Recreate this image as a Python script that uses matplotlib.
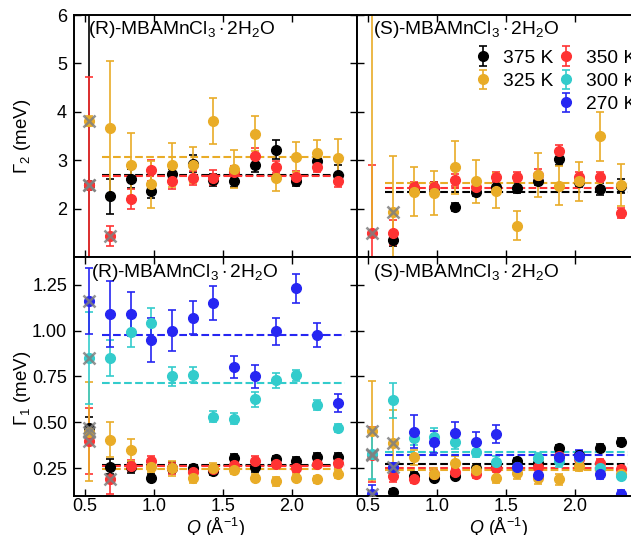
import numpy as np
import matplotlib.pyplot as plt
from matplotlib.lines import Line2D

plt.rcParams['font.family'] = 'Liberation Sans'
plt.rcParams['mathtext.fontset'] = 'custom'
plt.rcParams['mathtext.rm'] = 'Liberation Sans'
plt.rcParams['mathtext.it'] = 'Liberation Sans:italic'
plt.rcParams['font.size'] = 13

# Q (1/Angstrom)
Q = np.array([0.53, 0.68, 0.83, 0.98, 1.13, 1.28, 1.43, 1.58, 1.73, 1.88, 2.03, 2.18, 2.33])

temps = ['375 K', '350 K', '325 K', '300 K', '270 K']
cores = {'375 K': '#000000', '350 K': '#ff3333', '325 K': '#E9AC27', '300 K': '#33cccc', '270 K': '#2626f2'}
nan = np.nan

# ---- Gamma_2, (R) ----
g2_R = {
    '375 K': [2.49, 2.25, 2.62, 2.36, 2.71, 2.93, 2.59, 2.56, 2.90, 3.22, 2.58, 2.98, 2.70],
    '350 K': [2.49, 1.44, 2.20, 2.79, 2.56, 2.63, 2.64, 2.76, 3.09, 2.86, 2.65, 2.86, 2.57],
    '325 K': [3.81, 3.66, 2.91, 2.50, 2.90, 2.90, 3.81, 2.82, 3.55, 2.63, 3.06, 3.14, 3.05],
}
g2_R_err = {
    '375 K': [5.0, 0.36, 0.20, 0.15, 0.10, 0.17, 0.13, 0.12, 0.15, 0.20, 0.12, 0.10, 0.20],
    '350 K': [2.22, 0.21, 0.21, 0.21, 0.15, 0.15, 0.15, 0.12, 0.17, 0.13, 0.12, 0.10, 0.12],
    '325 K': [0.10, 1.38, 0.65, 0.48, 0.46, 0.38, 0.47, 0.40, 0.36, 0.26, 0.31, 0.27, 0.38],
}
g2_R_media = {'375 K': 2.70, '350 K': 2.68, '325 K': 3.07}
g2_R_fora = {'375 K': [0], '350 K': [0, 1], '325 K': [0]}

# ---- Gamma_2, (S) ----
g2_S = {
    '375 K': [nan, 1.35, 2.40, 2.42, 2.03, 2.35, 2.44, 2.42, 2.58, 3.02, 2.54, 2.40, 2.47],
    '350 K': [1.49, 1.50, 2.45, 2.45, 2.59, 2.45, 2.65, 2.65, 2.70, 3.18, 2.65, 2.65, 1.91],
    '325 K': [6.60, 1.92, 2.35, 2.32, 2.85, 2.56, 2.37, 1.65, 2.69, 2.47, 2.56, 3.49, 2.49],
}
g2_S_err = {
    '375 K': [nan, 0.12, 0.12, 0.12, 0.08, 0.10, 0.10, 0.10, 0.10, 0.12, 0.10, 0.12, 0.15],
    '350 K': [1.41, 0.26, 0.10, 0.10, 0.12, 0.12, 0.10, 0.10, 0.12, 0.13, 0.10, 0.10, 0.10],
    '325 K': [5.10, 1.17, 0.50, 0.45, 0.55, 0.44, 0.36, 0.30, 0.45, 0.40, 0.40, 0.50, 0.43],
}
g2_S_media = {'375 K': 2.35, '350 K': 2.43, '325 K': 2.52}
g2_S_fora = {'350 K': [0], '325 K': [1]}

# ---- Gamma_1, (R) ----
g1_R = {
    '375 K': [0.47, 0.26, 0.256, 0.20, 0.255, 0.25, 0.235, 0.307, 0.26, 0.30, 0.29, 0.312, 0.31],
    '350 K': [0.40, 0.19, 0.265, 0.29, 0.25, 0.23, 0.245, 0.27, 0.29, 0.275, 0.25, 0.275, 0.28],
    '325 K': [0.45, 0.405, 0.35, 0.26, 0.25, 0.20, 0.25, 0.24, 0.20, 0.18, 0.20, 0.19, 0.22],
    '300 K': [0.85, 0.85, 0.99, 1.04, 0.75, 0.76, 0.53, 0.52, 0.625, 0.73, 0.757, 0.595, 0.47],
    '270 K': [1.16, 1.09, 1.09, 0.95, 1.00, 1.07, 1.15, 0.80, 0.75, 0.995, 1.23, 0.977, 0.607],
}
g1_R_err = {
    '375 K': [0.06, 0.04, 0.03, 0.02, 0.03, 0.02, 0.02, 0.02, 0.03, 0.02, 0.02, 0.02, 0.025],
    '350 K': [0.18, 0.08, 0.03, 0.03, 0.03, 0.03, 0.02, 0.02, 0.03, 0.02, 0.02, 0.02, 0.02],
    '325 K': [0.27, 0.095, 0.06, 0.03, 0.04, 0.03, 0.03, 0.02, 0.02, 0.025, 0.02, 0.02, 0.02],
    '300 K': [0.25, 0.10, 0.08, 0.08, 0.05, 0.04, 0.03, 0.03, 0.04, 0.04, 0.03, 0.025, 0.02],
    '270 K': [0.18, 0.18, 0.12, 0.12, 0.11, 0.09, 0.09, 0.06, 0.06, 0.075, 0.08, 0.065, 0.05],
}
g1_R_media = {'375 K': 0.268, '350 K': 0.265, '325 K': 0.247, '300 K': 0.715, '270 K': 0.977}
g1_R_fora = {'375 K': [0], '350 K': [0, 1], '325 K': [0], '300 K': [0], '270 K': [0]}

# ---- Gamma_1, (S) ----
g1_S = {
    '375 K': [nan, 0.12, 0.21, 0.20, 0.21, 0.255, 0.26, 0.288, 0.28, 0.36, 0.325, 0.362, 0.393],
    '350 K': [0.325, 0.207, 0.19, 0.22, 0.23, 0.22, 0.25, 0.255, 0.26, 0.32, 0.30, 0.28, 0.245],
    '325 K': [0.455, 0.39, 0.31, 0.22, 0.28, 0.24, 0.20, 0.225, 0.196, 0.19, 0.265, 0.247, 0.22],
    '300 K': [0.33, 0.62, 0.416, 0.42, 0.393, 0.342, 0.285, 0.26, 0.306, 0.29, 0.31, 0.25, 0.21],
    '270 K': [0.11, 0.257, 0.45, 0.393, 0.443, 0.396, 0.438, 0.26, 0.216, 0.31, 0.32, 0.22, 0.11],
}
g1_S_err = {
    '375 K': [nan, 0.02, 0.02, 0.02, 0.02, 0.02, 0.02, 0.02, 0.02, 0.02, 0.02, 0.02, 0.02],
    '350 K': [0.15, 0.03, 0.02, 0.02, 0.02, 0.02, 0.02, 0.02, 0.02, 0.02, 0.02, 0.02, 0.02],
    '325 K': [0.27, 0.18, 0.04, 0.03, 0.04, 0.03, 0.03, 0.03, 0.03, 0.03, 0.03, 0.03, 0.03],
    '300 K': [0.14, 0.095, 0.04, 0.05, 0.04, 0.03, 0.03, 0.03, 0.03, 0.03, 0.03, 0.03, 0.02],
    '270 K': [0.05, 0.02, 0.09, 0.06, 0.06, 0.05, 0.05, 0.03, 0.03, 0.03, 0.03, 0.03, 0.02],
}
g1_S_media = {'375 K': 0.272, '350 K': 0.253, '325 K': 0.240, '300 K': 0.340, '270 K': 0.325}
g1_S_fora = {'350 K': [0], '325 K': [0, 1], '300 K': [0], '270 K': [0, 1]}

titulo_R = r'(R)-MBAMnCl$_3\cdot$2H$_2$O'
titulo_S = r'(S)-MBAMnCl$_3\cdot$2H$_2$O'


def desenha(ax, vals, errs, medias, fora):
    for t in temps:
        if t not in vals:
            continue
        y = np.array(vals[t], float)
        e = np.array(errs[t], float)
        ax.errorbar(Q, y, yerr=e, fmt='o', color=cores[t], ms=7, capsize=3,
                    elinewidth=1.2, capthick=1.2, label=t)
        ax.hlines(medias[t], 0.62, 2.38, colors=cores[t], linestyles='--', lw=1.5)
    # pontos excluidos do ajuste
    for t, idx in fora.items():
        y = np.array(vals[t], float)
        ax.plot(Q[idx], y[idx], 'x', color='gray', ms=8, mew=1.8, alpha=0.85, zorder=5)


fig = plt.figure(figsize=(6.31, 5.35), dpi=100)
esq, larg = 74 / 631, 283 / 631
dir_ = 357 / 631
ax_tl = fig.add_axes([esq, 1 - 257 / 535, larg, 242 / 535])
ax_tr = fig.add_axes([dir_, 1 - 257 / 535, larg, 242 / 535])
ax_bl = fig.add_axes([esq, 1 - 496 / 535, larg, 239 / 535])
ax_br = fig.add_axes([dir_, 1 - 496 / 535, larg, 239 / 535])

desenha(ax_tl, g2_R, g2_R_err, g2_R_media, g2_R_fora)
desenha(ax_tr, g2_S, g2_S_err, g2_S_media, g2_S_fora)
desenha(ax_bl, g1_R, g1_R_err, g1_R_media, g1_R_fora)
desenha(ax_br, g1_S, g1_S_err, g1_S_media, g1_S_fora)

for ax in [ax_tl, ax_tr, ax_bl, ax_br]:
    ax.set_xlim(0.42, 2.47)
    ax.set_xticks([0.5, 1.0, 1.5, 2.0])
    ax.tick_params(direction='in', top=True, right=True, length=5, width=1, labelsize=13)
    ax.tick_params(axis='x', pad=1.5)
    ax.tick_params(axis='y', pad=5)
    for s in ax.spines.values():
        s.set_linewidth(1.4)

for ax in [ax_tl, ax_tr]:
    ax.set_ylim(1, 6)
    ax.set_yticks([2, 3, 4, 5, 6])
    ax.tick_params(labelbottom=False)
for ax in [ax_bl, ax_br]:
    ax.set_ylim(0.1, 1.4)
    ax.set_yticks([0.25, 0.5, 0.75, 1.0, 1.25])
    ax.set_yticklabels(['0.25', '0.50', '0.75', '1.00', '1.25'])
    ax.set_xticklabels(['0.5', '1.0', '1.5', '2.0'])
    ax.set_xlabel(r'$Q$ (Å$^{-1}$)', fontsize=13)
    ax.xaxis.set_label_coords(0.5, -0.082)
for ax in [ax_tr, ax_br]:
    ax.tick_params(labelleft=False)

ax_tl.set_ylabel(r'$\Gamma_2$ (meV)', fontsize=13.5)
ax_tl.yaxis.set_label_coords(-0.145, 0.5)
ax_bl.set_ylabel(r'$\Gamma_1$ (meV)', fontsize=13.5)
ax_bl.yaxis.set_label_coords(-0.145, 0.45)

ax_tl.text(0.05, 0.985, titulo_R, transform=ax_tl.transAxes, va='top', ha='left', fontsize=13.8)
ax_bl.text(0.06, 0.978, titulo_R, transform=ax_bl.transAxes, va='top', ha='left', fontsize=13.8)
ax_tr.text(0.055, 0.985, titulo_S, transform=ax_tr.transAxes, va='top', ha='left', fontsize=13.8)
ax_br.text(0.055, 0.978, titulo_S, transform=ax_br.transAxes, va='top', ha='left', fontsize=13.8)

# legenda com as 5 temperaturas
h, l = ax_bl.get_legend_handles_labels()
mapa = dict(zip(l, h))
vazio = Line2D([], [], alpha=0)
ordem = ['375 K', '325 K', None, '350 K', '300 K', '270 K']
hs = [mapa[t] if t else vazio for t in ordem]
ls = [t if t else '' for t in ordem]
ax_tr.legend(hs, ls, ncol=2, loc='upper left', bbox_to_anchor=(0.384, 0.89),
             frameon=False, borderaxespad=0, handlelength=1.0, handletextpad=0.55,
             columnspacing=0.18, labelspacing=0.3, fontsize=13.8)

fig.savefig('out.png', dpi=100)
